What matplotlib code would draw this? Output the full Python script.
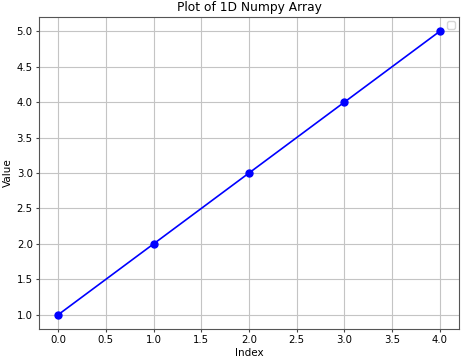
import numpy as np
import matplotlib
matplotlib.use("Agg")
import matplotlib.pyplot as plt

index = [0, 1, 2, 3, 4]
values = [1, 2, 3, 4, 5]

fig = plt.figure(figsize=(4.74, 3.64), dpi=100)
ax = fig.add_axes([0.0823, 0.0962, 0.886, 0.857])
ax.plot(index, values, marker='o', color='blue', markersize=5, linewidth=1.2)
ax.set_title('Plot of 1D Numpy Array', fontsize=8.8, pad=4)
ax.set_xlabel('Index', fontsize=7.5, labelpad=2)
ax.set_ylabel('Value', fontsize=7.5, labelpad=3)
ax.set_xticks(np.arange(0, 4.01, 0.5))
ax.set_yticks(np.arange(1, 5.01, 0.5))
ax.tick_params(labelsize=7.3, length=2.5, pad=2, color='#444444')
for s in ax.spines.values():
    s.set_color('#555555')
ax.grid(True, color='#c4c4c4', linewidth=0.8)
ax.set_xlim(-0.2, 4.2)
ax.set_ylim(0.8, 5.2)
ax.legend(handles=[], loc='upper right', fontsize=7, borderpad=0.4, borderaxespad=0.4)
fig.savefig('out.png', dpi=100)
